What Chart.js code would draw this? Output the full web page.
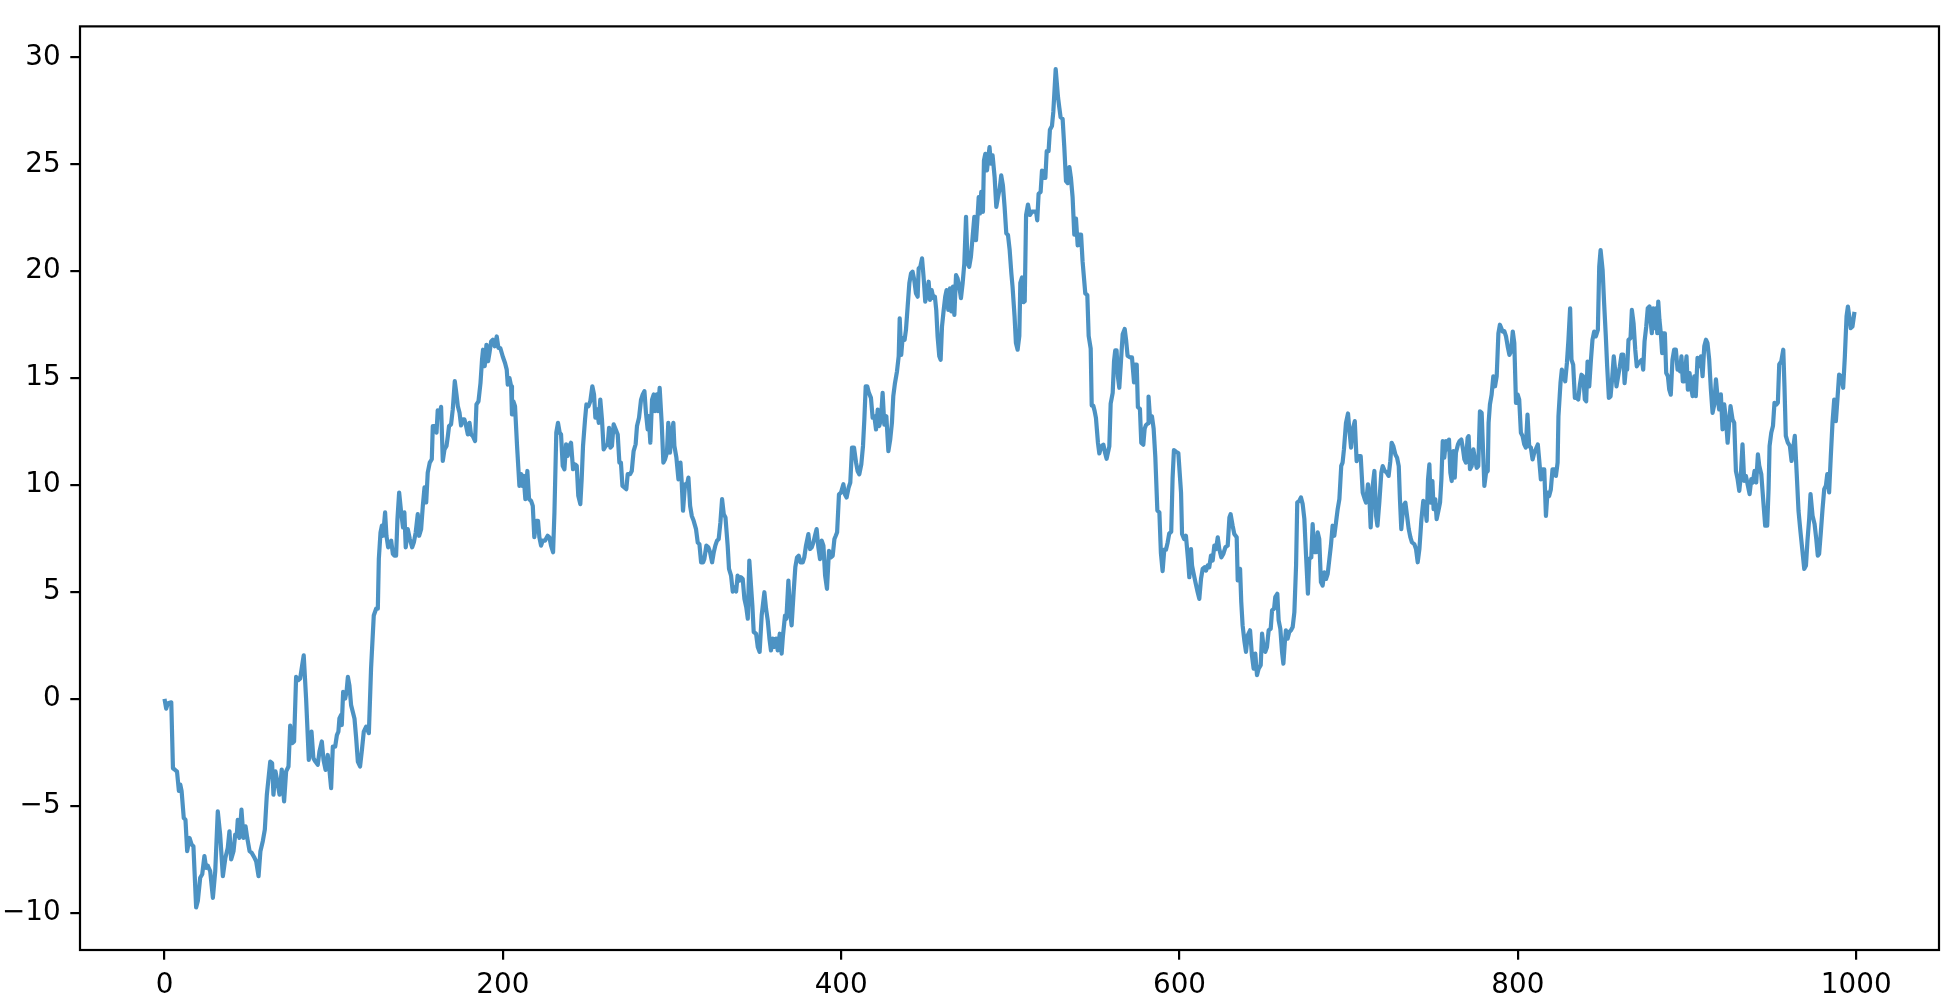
<!DOCTYPE html>
<html>
<head>
<meta charset="utf-8">
<script src="https://cdn.jsdelivr.net/npm/chart.js@4.4.1/dist/chart.umd.min.js"></script>
<style>
  html, body { margin: 0; padding: 0; background: #fff; }
  #wrap { width: 1950px; height: 1006px; }
</style>
</head>
<body>
<div id="wrap"><canvas id="walkChart" width="1950" height="1006"></canvas></div>
<script>
// step index of each vertex
const steps = [
  0,1,2,4,5,6,7.4,8.5,9.3,10.1, 11.4,12.4,13.4,14.8,16,17.1,18.7,19.7,21.1,22.3, 23.6,24.6,25.6,27,28.6,30,31.5,32.9,34.5,36, 37.4,38.4,39.4,40.8,41.8,42.7,43.3,44.3,45.5,46.7, 47.9,48.9,50.3,51.6,53.2,54.2,55.6,56.7,58.1,59.3, 60.5,62.5,63.6,64.4,65.6,67,68,69.3,70.7,71.9, 73.3,74.3,75.5,76.6,77.8,79.2,80.2,81.4,82.3,83.7, 85.3,86.9,88,89.2,90.6,91.6,93,94,95.2,96.5, 97.5,98.5,99.5,
  100.9,101.9,102.8,103.4,104.4,104.8,105.6,106.8,107.6,108.4, 109.3,110.3,112.3,113.3,114.3,115.6,116.6,117.8,119.2,120.8, 122.1,123.7,125.1,126.1,126.7,127.7,128.5,129.2,130.4,131.2, 132.2,133.2,134,135,135.9,136.9,137.7,138.7,139.9,141, 141.8,142.6,143.8,145,146.4,147.4,148.5,149.7,150.5,151.7, 152.7,153.7,154.7,155.6,156.8,158,158.6,160,160.8,161.5, 162.5,163.5,164.5,165.5,166.7,167.5,168.2,169.4,170.4,171.6, 172.6,173.4,174.4,175.3,176.3,177.3,178.3,179.3,180.3,181.2, 182.2,183.6,184.4,185.6,186.8,187.7,188.3,189.3,190.3,191.3, 192.1,193.1,194.1,195.2,196.4,197.4,198.5,200,
  201.3,202.3,202.9,203.9,204.9,205.4,206.2,207.2,208.4,209.8, 210.8,211.7,212.3,213.3,214.5,215.5,216.7,217.7,218.6,219.8, 220.8,221.6,222.6,223.6,224.9,226.5,227.5,228.5,229.7,230.5, 231.6,232.6,233.6,234.4,235.4,236.4,237.4,238.3,239.3,240.3, 241.5,242.7,243.7,244.6,245.8,246.6,247.4,248.6,249.4,250.6, 251.7,252.9,253.9,254.7,255.7,256.7,257.6,258.6,259.6,260.8, 262,262.8,263.6,264.5,265.5,266.7,267.9,268.9,269.8,270.7, 271.8,273,273.8,275.2,276.2,277.3,278.5,279.3,280.5,281.7, 282.7,283.7,284.6,285.6,286.2,287.2,288.2,289.2,290,291, 291.7,292.7,293.9,294.9,295.9,297,297.8,298.8,299.8,300.8, 301.4,
  302.6,303.8,305,305.7,306.5,307.7,308.7,309.7,310.7,311.7, 312.8,314.2,315.2,316.2,317.2,318.4,319.1,320.3,321.5,322.5, 323.7,324.7,325.6,326.6,327.6,328.6,329.6,330.6,331.6,332.9, 333.7,334.9,335.9,336.9,337.9,338.8,339.8,340.8,341.8,342.8, 343.9,344.8,345.7,346.7,347.5,348.3,349.7,350.7,351.8,353, 354.6,355.6,356.6,357.6,358.5,359.5,360.5,361.5,362.5,363.7, 364.8,365.6,366.8,367.6,368.8,369.8,370.7,371.9,372.9,373.9, 374.9,375.9,377.3,378.2,379.2,380.6,381.6,382.6,383.6,384.5, 385.5,386.5,387.5,388.5,389.5,390.5,391.6,392.8,394,395, 396,396.8,397.6,398.7,399.9,
  401.3,402.2,403.2,404.4,405.4,406.4,407.6,408.8,409.7,410.7, 411.9,412.9,413.7,414.5,415.4,416.4,417.6,418.6,419.6,420.6, 421.6,422.5,423.5,424.5,425.5,426.7,427.9,429,430,430.8, 431.8,433,434,434.6,435.5,436.3,437.5,438.3,439.3,440.3, 441.3,442.2,443.2,444.2,445.2,445.8,446.8,447.8,448.7,449.7, 450.7,451.7,452.5,453.5,454.5,455.4,456.2,457,458,458.8, 459.6,460.6,461.5,462.3,463.3,464.3,465.1,466.1,466.9,467.9, 468.8,469.8,470.8,471.8,472.8,473.8,474.7,475.7,476.7,477.7, 478.7,479.7,480.5,481.3,482,482.8,483.8,484.4,485.2,486.2, 487,487.7,488.5,489.5,490.7,491.7,492.7,493.7,494.6,495.6, 496.6,497.6,498.6,499.6,500.6,501.3,502.5,503.3,504.3,
  505.3,505.9,506.9,507.7,508.5,509.3,510.4,511.6,512.8,514, 515.2,515.9,516.7,517.9,518.7,519.9,520.7,521.5,522.6,523.4, 524.6,525.4,526.8,528.2,529,529.7,530.9,531.9,532.9,533.9, 534.9,535.8,536.8,537.8,538.8,539.8,540.8,541.8,542.7,544.3, 545.5,546.3,547.5,548.1,549,549.8,550.6,551.8,552.6,553.8, 555,556.1,556.9,558.5,559.3,560.5,561.3,562,562.8,563.6, 564.4,565.4,566.4,567.6,568.4,569.3,570.7,571.9,573.1,573.9, 574.7,575.4,576.6,577.4,578.6,579.4,580.2,581.4,581.7,582.7, 583.7,584.7,585.7,586.9,588.1,589,590,591,592,593, 593.9,595.1,595.9,596.7,597.9,599.3,
  600.9,601.5,602.7,603.8,605,605.8,606.8,607.4,608.2,609.4, 610.7,611.7,612.7,613.7,614.9,615.7,616.6,617.6,618.6,619.6, 620.6,621.6,622.6,623.5,624.7,625.9,627.1,628.5,629.5,630.2, 631.4,632.4,633.8,634.4,635.8,636.5,637.3,638.3,639.3,640.3, 641.7,642.8,643.8,644.8,645.8,646.8,648,648.8,649.7,650.7, 651.7,652.7,653.9,654.7,655.9,656.6,657.8,658.6,659.6,660.6, 661.4,662.2,662.9,663.9,664.9,665.9,666.9,667.9,668.9,669.6, 670.8,671.8,672.8,673.8,674.8,675.9,676.7,677.9,678.7,679.7, 680.7,681.7,682.6,683.6,684.6,685.6,686.6,687.6,688.6,689.5, 690.5,691.5,692.5,693.5,694.5,695.6,696.4,697.2,698.4,699.6, 700.4,
  701.4,702.4,703.6,704.7,705.9,707.1,708.3,709.5,710.3,711.4, 712.2,713,714.2,715.2,716.2,717,718.1,719.3,720.1,721.3, 722.5,723.6,724.6,725.4,726.4,727.6,728.6,729.6,730.3,731.1, 732.3,733.5,734.5,735.5,736.5,737.4,738.8,739.8,740.8,741.8, 743,744.1,745.1,746.1,746.9,747.7,748.5,749.5,750.2,751.2, 752,753,754,754.8,755.6,756.5,757.5,758.5,759.3,760.1, 760.9,761.9,762.7,763.4,764.6,765.6,766.6,767.6,768.4,769.3, 770.3,770.9,771.7,772.7,773.7,774.5,775.7,776.6,777.6,778.6, 779.6,780.2,781.2,782.2,782.7,783.5,784.5,785.5,786.5,787.5, 788.5,789.4,791,792,793,794,795,796,797,797.9, 798.9,799.9,800.8,
  801.8,802.8,803.8,804.7,805.7,806.7,807.7,808.7,809.7,810.6, 811.8,812.6,813.6,814.6,815.6,816.6,817.5,818.5,819.5,820.5, 821.7,822.5,823.5,824,825.2,826,827,828,829,829.9, 830.9,831.7,832.7,833.7,834.7,835.7,836.7,837.6,838.6,839.6, 840.4,841.2,842.2,843.2,844.1,845.1,846.1,847.3,848.1,848.9, 850.1,851,852,852.8,853.8,854.8,855.6,856.7,857.5,858.3, 859.3,860.3,861.3,862.3,863.1,863.8,864.6,865.4,866.6,867.4, 868.4,869.4,870.3,871.3,872.3,873.3,874.1,874.9,875.9,876.8, 877.8,878.6,879.2,880,880.8,881.6,882.4,883,883.7,884.5, 885.3,886.1,886.9,887.7,888.7,889.5,890.4,891.4,892.4,893.4, 894.4,895.4,895.9,896.7,897.5,898.3,898.9,899.7,900.5,901.5,
  902.3,903.3,904.3,905.2,906.2,907.2,908.2,909.2,910.2,911.2, 912.1,913.1,914.1,915.1,916.1,917.1,918,919,920,921, 922,923,924,924.9,925.7,926.9,927.9,928.9,929.9,930.9, 931.8,932.8,933.8,934.8,936,937,938,938.9,939.9,940.9, 941.9,942.7,943.9,945,946.2,947.4,948.2,948.8,949.8,950.8, 951.7,952.9,953.7,954.5,955.7,956.9,957.6,958.4,959.6,960.8, 961.8,962.8,963.7,964.9,965.9,967.1,968.3,969.3,970.3,971.2, 972.2,973,974.2,975.4,976.4,977.3,978.1,979.1,980.1,981.1, 982.1,982.9,984,985,986,987,988,988.9,989.9,991.1, 992.3,993.3,994.3,995.1,995.9,996.8,997.8,999
];

// walk value at each of those steps
const values = [
  0,-0.45,-0.2,-0.16,-3.24,-3.3,-3.4,-4.3,-4.0,-4.3, -5.57,-5.65,-7.12,-6.5,-6.8,-6.9,-9.75,-9.45,-8.36,-8.2, -7.35,-7.9,-7.8,-8.05,-9.3,-8.05,-5.26,-6.34,-8.29,-7.43, -6.97,-6.19,-7.5,-7.12,-6.34,-6.4,-5.65,-6.5,-5.18,-6.5, -5.96,-6.5,-7.12,-7.2,-7.43,-7.6,-8.29,-7.12,-6.65,-6.11, -4.48,-2.93,-3.0,-4.48,-3.39,-4.0,-4.48,-3.3,-4.79,-3.39, -3.16,-1.25,-2.07,-1.99,1.03,0.88,0.96,1.58,2.04,0.02, -2.85,-1.53,-2.77,-2.93,-3.08,-2.46,-1.99,-2.85,-3.32,-2.62, -3.32,-4.17,-2.23,
  -2.23,-1.69,-1.53,-0.91,-0.75,-1.22,0.33,0.02,0.33,1.03, 0.64,-0.29,-0.91,-1.84,-2.93,-3.16,-2.46,-1.53,-1.3,-1.6, 1.42,3.9,4.22,4.22,6.55,7.79,8.1,7.63,8.72,7.63, 7.09,7.32,7.4,6.78,6.7,6.7,8.41,9.65,8.72,8.02, 8.72,7.09,7.94,7.48,7.09,7.32,7.79,8.64,7.63,7.94, 9.03,9.89,9.19,10.58,11.05,11.21,12.76,12.76,12.45,13.5, 13.23,13.66,11.13,11.67,11.83,12.29,12.76,12.84,13.54,14.86, 14.24,13.69,13.38,12.79,13.07,13.07,12.76,12.37,12.91,12.37, 12.3,12.06,13.77,13.92,14.78,15.87,16.33,15.56,16.56,15.79, 16.18,16.72,16.8,16.49,16.95,16.41,16.41,16.0,
  15.71,15.4,14.7,15.01,14.62,13.3,13.92,13.69,11.83,9.96, 10.51,9.96,10.43,9.34,10.66,9.34,9.26,9.03,7.56,8.33, 8.33,7.56,7.17,7.4,7.4,7.63,7.56,7.17,6.86,8.72, 12.45,12.91,12.45,12.37,10.9,10.74,11.91,11.36,11.83,11.98, 10.74,10.97,10.9,9.5,9.11,10.27,11.83,13.07,13.77,13.69, 13.92,14.62,14.24,13.15,13.54,12.91,14.0,13.07,11.67,11.83, 11.9,12.68,11.75,11.83,12.84,12.61,12.37,11.05,11.05,9.96, 9.89,9.81,10.51,10.51,10.66,11.59,11.91,12.76,13.15,14.0, 14.24,14.39,13.38,12.61,13.23,11.98,14.0,14.24,13.46,14.24, 13.46,14.55,12.91,11.05,11.21,11.52,12.91,11.52,12.45,12.91, 11.83,
  11.28,10.27,11.05,10.19,8.8,10.04,9.96,10.35,9.03,8.56, 8.33,7.94,7.32,7.24,6.39,6.39,6.54,7.17,7.09,6.86, 6.39,6.86,7.17,7.4,7.48,8.25,9.34,8.64,8.49,7.17, 6.08,5.77,5.02,5.22,5.02,5.77,5.53,5.69,5.61,4.68, 4.29,3.75,6.47,5.3,4.37,3.13,3.05,2.43,2.2,3.9, 4.99,4.21,3.67,2.82,2.27,2.82,2.43,2.82,2.27,3.05, 2.12,2.97,3.9,3.75,5.53,4.06,3.44,4.99,6.16,6.62, 6.7,6.39,6.39,6.62,7.17,7.71,7.01,7.09,7.32,7.63, 7.94,7.09,6.54,7.4,7.17,5.77,5.15,6.93,6.62,6.7, 7.48,7.63,7.79,9.57,9.65,
  10.04,9.57,9.42,9.88,10.12,11.75,11.75,11.05,10.66,10.5, 10.97,11.83,13.07,14.62,14.62,14.31,14.08,13.15,13.22,12.6, 13.53,12.76,13.07,14.31,12.83,13.22,11.59,12.14,12.91,14.15, 14.77,15.32,16.02,17.8,16.09,16.87,16.8,17.26,18.35,19.44, 19.9,19.98,19.59,18.97,18.81,20.13,20.21,20.6,19.75,18.58, 18.97,19.51,18.66,19.12,18.74,18.81,18.19,16.95,16.02,15.86, 17.42,18.19,18.81,19.12,18.19,19.2,18.12,19.28,17.96,19.82, 19.67,19.28,18.74,19.44,20.37,22.54,20.37,20.21,20.68,21.61, 22.54,21.45,22.39,23.47,22.7,23.71,22.78,25.18,25.49,24.72, 25.34,25.8,25.03,25.42,24.41,23.01,23.47,23.86,24.48,24.02, 23.01,21.77,21.69,20.99,19.9,19.28,17.88,16.64,16.33,
  16.97,19.46,19.71,18.55,18.6,22.63,23.12,22.63,22.79,22.79, 22.79,22.38,23.62,23.71,24.71,24.37,24.37,25.62,25.62,26.62, 26.79,27.45,29.45,28.12,27.62,27.2,27.12,25.79,24.21,24.12, 24.87,24.37,23.46,21.71,22.46,21.21,21.71,21.71,20.46,18.96, 18.88,16.97,16.38,13.72,13.72,13.47,13.14,11.97,11.48,11.81, 11.89,11.48,11.23,11.81,13.81,14.31,15.8,16.3,16.3,15.05, 14.55,15.8,17.05,17.3,16.8,16.05,15.97,15.97,14.8,15.64, 15.64,13.64,13.56,11.97,11.89,12.64,12.81,12.89,14.14,12.97, 13.22,12.64,11.31,8.81,8.73,6.82,5.98,6.98,6.98,7.32, 7.73,7.82,10.31,11.64,11.56,11.5,
  9.65,7.71,7.48,7.63,6.55,5.69,7.01,6.24,5.92,5.46, 5.0,4.68,5.61,6.08,6.16,6.0,6.24,6.16,6.7,6.47, 7.17,7.01,7.56,7.01,6.62,6.78,7.09,7.17,8.49,8.64, 8.1,7.71,7.56,5.54,6.08,4.53,3.44,2.74,2.2,2.97, 3.21,2.04,1.42,2.12,1.11,1.42,1.58,3.05,2.43,2.2, 2.43,3.21,3.28,4.14,4.22,4.76,4.92,3.67,3.28,2.2, 1.65,2.59,3.21,2.82,3.13,3.21,3.36,4.06,6.24,9.19, 9.26,9.42,9.11,8.41,6.7,4.92,6.55,6.62,8.18,6.86, 6.86,7.79,7.48,5.46,5.3,5.92,5.61,5.85,6.55,7.17, 8.1,7.63,8.25,8.88,9.34,10.9,11.05,11.67,12.91,13.35, 12.6,
  11.75,12.6,12.99,11.12,11.36,11.36,9.65,9.34,9.18,10.04, 9.49,8.02,9.96,10.66,8.56,8.1,9.18,10.58,10.89,10.66, 10.58,10.43,11.12,11.98,11.82,11.43,11.28,10.89,9.34,7.94, 9.03,9.18,8.56,7.94,7.55,7.32,7.24,7.01,6.39,7.01, 8.41,9.26,9.03,8.33,10.27,10.97,9.18,10.19,8.87,9.34, 8.41,8.79,9.18,10.27,12.06,11.28,12.06,11.67,12.13,10.58, 10.19,11.59,10.35,11.51,11.9,12.06,12.13,11.67,11.2,11.05, 12.21,12.29,10.74,10.89,11.67,11.28,10.81,10.89,13.45,13.38, 11.28,9.96,10.58,10.66,12.91,13.77,14.23,15.09,14.62,15.09, 17.1,17.5,17.18,17.2,16.95,16.48,16.09,16.25,17.18,16.64, 13.84,14.23,14.0,
  12.45,12.29,11.9,11.75,13.3,11.82,11.75,11.2,11.51,11.67, 11.9,11.2,10.27,10.74,10.74,8.56,9.65,9.49,9.8,10.74, 10.74,10.43,11.05,13.22,14.77,15.4,15.09,14.85,15.71,16.79, 18.27,15.86,15.63,14.08,14.08,14.0,14.7,15.16,15.09,14.0, 13.92,15.78,14.62,15.86,16.79,17.18,16.95,17.26,20.21,20.99, 20.06,18.5,16.95,15.55,14.08,14.15,14.85,16.02,15.4,14.62, 15.09,15.55,16.1,16.1,14.77,15.4,15.4,16.79,16.87,18.19, 17.57,16.33,15.55,15.71,15.78,15.86,15.4,16.72,17.42,18.27, 18.35,17.57,17.1,18.27,17.34,18.27,17.1,18.58,17.73,17.1, 16.17,17.1,17.1,15.24,15.09,14.46,14.23,15.86,16.33,16.33, 15.4,15.71,15.32,16.02,14.85,14.85,15.32,16.02,14.46,15.24,
  14.63,14.16,15.09,14.16,15.95,15.56,16.02,15.09,16.49,16.8, 16.64,15.87,14.47,13.38,13.77,14.94,14.16,13.54,14.24,12.61, 13.77,13.07,11.98,12.92,13.69,13.07,12.92,10.66,10.28,9.73, 10.43,11.91,10.2,10.43,9.97,9.58,10.28,10.12,10.66,10.12, 11.44,10.9,10.51,9.34,8.1,8.1,9.81,11.83,12.45,12.76, 13.85,13.77,13.85,15.64,15.79,16.33,14.63,12.3,11.98,11.83, 11.13,11.75,12.3,10.43,8.8,7.79,6.86,6.08,6.24,7.4, 8.41,9.58,8.57,8.18,7.48,6.7,6.78,7.79,8.88,9.81, 9.97,10.51,9.66,11.36,12.92,14.0,12.99,14.0,15.17,15.09, 14.55,16.02,17.89,18.35,17.89,17.34,17.42,18.1
];

const xTicks = [0, 200, 400, 600, 800, 1000];
const yTicks = [-10, -5, 0, 5, 10, 15, 20, 25, 30];
const xRange = [-49.95, 1048.95];
const yRange = [-11.74, 31.45];

const lineColor = 'rgba(31, 119, 180, 0.8)';
const tickFont = { family: '"DejaVu Sans", sans-serif', size: 27.8 };

function formatTick(value) {
  return value < 0 ? '\u2212' + Math.abs(value) : String(value);
}

// matplotlib style box round the plot area
const framePlugin = {
  id: 'frame',
  afterDatasetsDraw(chart) {
    const { ctx, chartArea: a } = chart;
    ctx.save();
    ctx.strokeStyle = '#000';
    ctx.lineWidth = 2.2;
    ctx.strokeRect(a.left, a.top, a.right - a.left, a.bottom - a.top);
    ctx.restore();
  }
};

function axisStyle(tickValues) {
  return {
    type: 'linear',
    afterBuildTicks: axis => {
      axis.ticks = tickValues.map(v => ({ value: v }));
    },
    grid: {
      display: true,
      drawOnChartArea: false,
      drawTicks: true,
      tickLength: 9.7,
      tickWidth: 2.2,
      tickColor: '#000',
      color: '#000',
      lineWidth: 2.2
    },
    border: { display: false },
    ticks: {
      color: '#000',
      font: tickFont,
      padding: 9.7,
      autoSkip: false,
      maxRotation: 0,
      callback: value => formatTick(value)
    }
  };
}

const points = steps.map((s, i) => ({ x: s, y: values[i] }));

const xAxis = axisStyle(xTicks);
xAxis.min = xRange[0];
xAxis.max = xRange[1];
xAxis.afterFit = scale => { scale.height = 56; };

const yAxis = axisStyle(yTicks);
yAxis.min = yRange[0];
yAxis.max = yRange[1];
yAxis.afterFit = scale => { scale.width = 80; };

new Chart(document.getElementById('walkChart'), {
  type: 'line',
  data: {
    datasets: [{
      data: points,
      borderColor: lineColor,
      borderWidth: 4.2,
      pointRadius: 0,
      tension: 0,
      fill: false,
      borderJoinStyle: 'round'
    }]
  },
  options: {
    responsive: false,
    animation: false,
    layout: { padding: { top: 26, right: 11, left: 0, bottom: 0 } },
    scales: { x: xAxis, y: yAxis },
    plugins: {
      legend: { display: false },
      tooltip: { enabled: false }
    }
  },
  plugins: [framePlugin]
});
</script>
</body>
</html>
